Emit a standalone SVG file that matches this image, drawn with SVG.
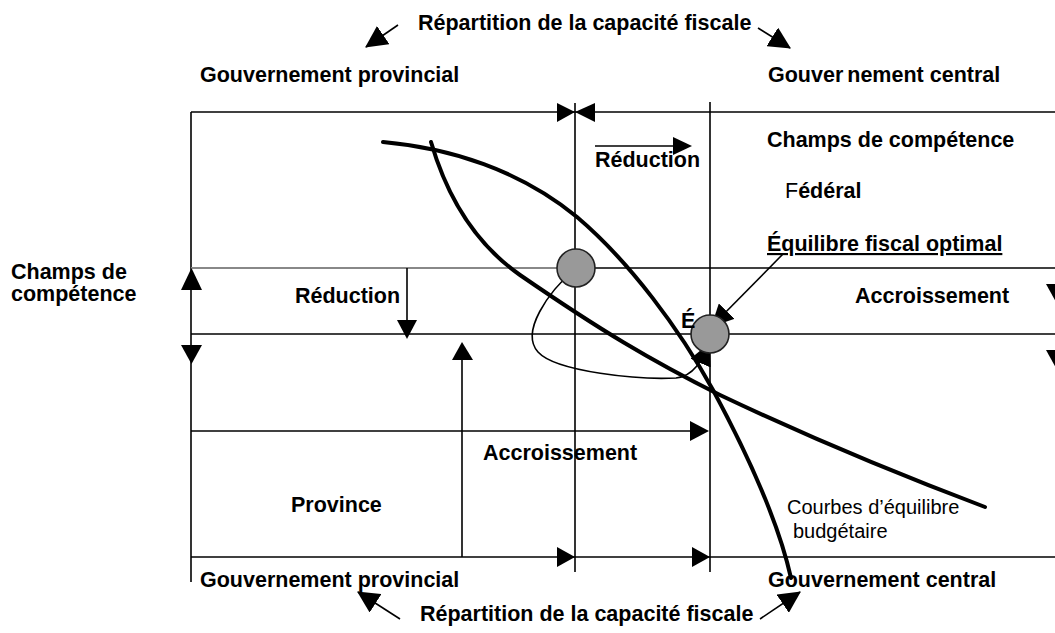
<svg xmlns="http://www.w3.org/2000/svg" width="1055" height="633" viewBox="0 0 1055 633">
<style>
.b{font-family:"Liberation Sans",Arial,sans-serif;font-weight:bold;font-size:21.5px;fill:#000}
.r{font-family:"Liberation Sans",Arial,sans-serif;font-size:20px;fill:#000}
.g{stroke:#000;stroke-width:1.6;fill:none}
.thick{stroke:#000;stroke-width:4;fill:none;stroke-linecap:round}
.thin{stroke:#000;stroke-width:1.6;fill:none}
.tri{fill:#000}
.dot{fill:#999;stroke:#222;stroke-width:1.6}
</style>
<defs>
<marker id="ah" viewBox="0 0 20 20" refX="19" refY="10" markerWidth="22" markerHeight="22" markerUnits="userSpaceOnUse" orient="auto"><path d="M0,0 L20,10 L0,20 Z" fill="#000"/></marker>
</defs>
<rect width="1055" height="633" fill="#fff"/>
<g id="grid">
<line class="g" x1="191" y1="112" x2="1055" y2="112"/>
<line class="g" x1="191" y1="112" x2="191" y2="582"/>
<line x1="191" y1="268" x2="560" y2="268" stroke="#888" stroke-width="2"/>
<line class="g" x1="590" y1="268" x2="1055" y2="268"/>
<line class="g" x1="191" y1="334" x2="1055" y2="334"/>
<line class="g" x1="191" y1="557" x2="1055" y2="557"/>
<line class="g" x1="575" y1="103" x2="575" y2="572"/>
<line class="g" x1="710" y1="102" x2="710" y2="572"/>
</g>
<g id="connectors">
<polygon class="tri" points="557,103 557,122 575,112"/>
<polygon class="tri" points="595,103 595,122 575,112"/>
<line class="g" x1="595" y1="146" x2="675" y2="146"/>
<polygon class="tri" points="673,137 673,155 692,146"/>
<line class="g" x1="407" y1="268" x2="407" y2="322"/>
<polygon class="tri" points="397,320 417,320 407,339"/>
<polygon class="tri" points="181,290 202,290 191.5,268"/>
<polygon class="tri" points="181,345 202,345 191.5,364"/>
<line class="g" x1="462" y1="358" x2="462" y2="557"/>
<polygon class="tri" points="452,360 473,360 462,342"/>
<line class="g" x1="191" y1="431" x2="692" y2="431"/>
<polygon class="tri" points="690,421 690,441 709,431"/>
<polygon class="tri" points="557,547 557,567 575,557"/>
<polygon class="tri" points="692,547 692,567 710,557"/>
<polygon class="tri" points="1046,284 1066,284 1056,302"/>
<polygon class="tri" points="1046,350 1066,350 1056,368"/>
<line class="thin" x1="398" y1="25" x2="366" y2="47" marker-end="url(#ah)"/>
<line class="thin" x1="758" y1="28" x2="790" y2="48" marker-end="url(#ah)"/>
<line class="thin" x1="400" y1="619" x2="358" y2="592" marker-end="url(#ah)"/>
<line class="thin" x1="760" y1="619" x2="800" y2="592" marker-end="url(#ah)"/>
<path class="thick" d="M383,142 C450,148 520,170 577,217 C630,262 680,330 713,390 C748,455 778,520 791,578"/>
<path class="thick" d="M431,142 C445,190 470,240 520,275 C600,330 650,360 720,395 C800,433 900,475 985,507"/>
<path class="thin" d="M576,268 C548,292 520,332 538,352 C556,372 640,380 676,378 C694,376 702,360 709,344" marker-end="url(#ah)"/>
<line class="thin" x1="783" y1="254" x2="712" y2="326" marker-end="url(#ah)"/>
</g>
<g id="node-dots">
<circle class="dot" cx="576" cy="268" r="19"/>
<circle class="dot" cx="710" cy="334" r="19"/>
</g>
<g id="labels-top">
<text class="b" x="418" y="30">Répartition de la capacité fiscale</text>
<text class="b" x="200" y="82">Gouvernement provincial</text>
<text class="b" x="768" y="82">Gouver<tspan dx="4">nement central</tspan></text>
</g>
<g id="labels-federal">
<text class="b" x="595" y="167">Réduction</text>
<text class="b" x="767" y="147">Champs de compétence</text>
<text class="b" x="785" y="198"><tspan font-weight="normal">F</tspan>édéral</text>
<text class="b" x="767" y="251" text-decoration="underline">Équilibre fiscal optimal</text>
<text class="b" x="681" y="328">É</text>
</g>
<g id="labels-left">
<text class="b" x="11" y="279">Champs de</text>
<text class="b" x="11" y="301">compétence</text>
<text class="b" x="295" y="303">Réduction</text>
<text class="b" x="855" y="303">Accroissement</text>
</g>
<g id="labels-province">
<text class="b" x="483" y="460">Accroissement</text>
<text class="b" x="291" y="512">Province</text>
<text class="r" x="787" y="514">Courbes d’équilibre</text>
<text class="r" x="793" y="538">budgétaire</text>
</g>
<g id="labels-bottom">
<text class="b" x="200" y="587">Gouvernement provincial</text>
<text class="b" x="768" y="587">Gouvernement central</text>
<text class="b" x="420" y="621">Répartition de la capacité fiscale</text>
</g>
</svg>
